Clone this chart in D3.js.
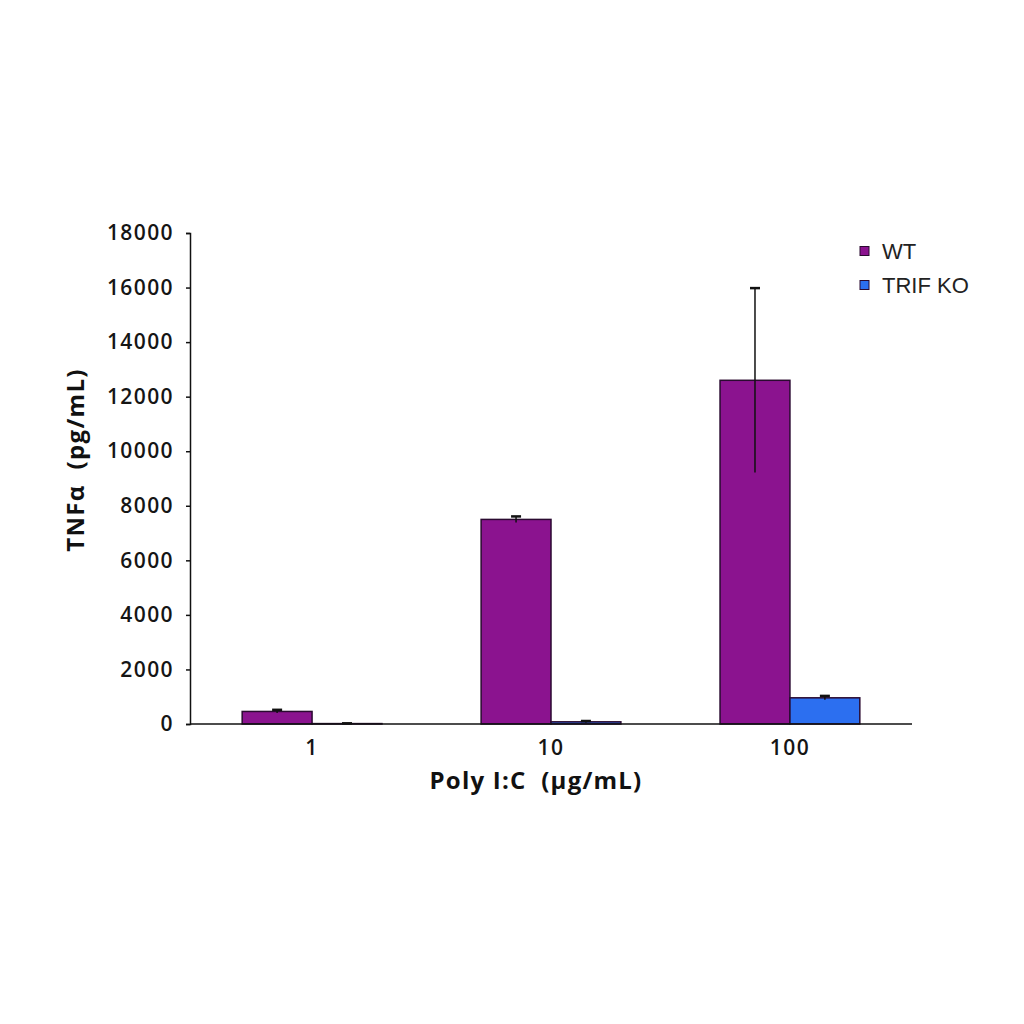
<!DOCTYPE html>
<html lang="en">
<head>
<meta charset="utf-8">
<title>TNFa Poly I:C</title>
<script src="https://cdn.jsdelivr.net/npm/d3@7"></script>
<style>
  body { margin: 0; background: #fff; }
  text { font-family: "Open Sans", "Liberation Sans", sans-serif; fill: #111; }
</style>
</head>
<body>
<script>
  // data
  var categories = ["1", "10", "100"];
  var seriesNames = ["WT", "TRIF KO"];
  var wtValues = [460, 7500, 12600];
  var wtErrors = [60, 110, 3380];
  var koValues = [15, 80, 960];
  var koErrors = [10, 30, 70];
  var yTicks = [0, 2000, 4000, 6000, 8000, 10000, 12000, 14000, 16000, 18000];
  var colors = ["#8b138f", "#2c6ff0"];

  var w = 1024, h = 1024;
  var plotLeft = 190, plotRight = 912, plotTop = 233, plotBottom = 724;

  var svg = d3.select("body").append("svg")
    .attr("width", w).attr("height", h);

  var x = d3.scaleBand().domain(categories).range([plotLeft + 2, plotRight - 2]).paddingInner(0.415).paddingOuter(0.21);
  var xs = d3.scaleBand().domain(seriesNames).range([0, x.bandwidth()]);
  var y = d3.scaleLinear().domain([0, 18000]).range([plotBottom, plotTop]);

  var rows = categories.map(function(c, i) {
    return [
      {cat: c, s: seriesNames[0], v: wtValues[i], e: wtErrors[i], col: colors[0]},
      {cat: c, s: seriesNames[1], v: koValues[i], e: koErrors[i], col: colors[1]}
    ];
  });

  var groups = svg.selectAll("g.cat").data(rows).enter().append("g")
    .attr("class", "cat")
    .attr("transform", function(d) { return "translate(" + x(d[0].cat) + ",0)"; });

  groups.selectAll("rect").data(function(d) { return d; }).enter().append("rect")
    .attr("x", function(d) { return xs(d.s); })
    .attr("width", xs.bandwidth())
    .attr("y", function(d) { return y(d.v); })
    .attr("height", function(d) { return plotBottom - y(d.v); })
    .style("fill", function(d) { return d.col; })
    .style("stroke", "#2a0a30")
    .style("stroke-width", 1.5);

  // error bars (line plus short cap)
  var err = groups.selectAll("g.err").data(function(d) { return d; }).enter().append("g")
    .attr("class", "err");
  err.append("line")
    .attr("x1", function(d) { return xs(d.s) + xs.bandwidth() / 2; })
    .attr("x2", function(d) { return xs(d.s) + xs.bandwidth() / 2; })
    .attr("y1", function(d) { return y(d.v - d.e); })
    .attr("y2", function(d) { return y(d.v + d.e); })
    .style("stroke", "#111").style("stroke-width", 1.5);
  err.append("line")
    .attr("x1", function(d) { return xs(d.s) + xs.bandwidth() / 2 - 5; })
    .attr("x2", function(d) { return xs(d.s) + xs.bandwidth() / 2 + 5; })
    .attr("y1", function(d) { return y(d.v + d.e); })
    .attr("y2", function(d) { return y(d.v + d.e); })
    .style("stroke", "#111").style("stroke-width", 2.5);

  // y axis
  var yAxis = svg.append("g")
    .attr("transform", "translate(" + plotLeft + ",0)")
    .call(d3.axisLeft(y).tickValues(yTicks).tickSize(4).tickFormat(d3.format("d")));
  yAxis.select(".domain").style("stroke", "#111").style("stroke-width", 1.5);
  yAxis.selectAll(".tick line").style("stroke", "#111").style("stroke-width", 1.5);
  yAxis.selectAll(".tick text")
    .attr("x", -16)
    .style("font-size", "21px")
    .style("font-weight", "600")
    .style("letter-spacing", "1.4px")
    .style("font-family", "'Open Sans', sans-serif")
    .style("fill", "#151515");

  // x axis
  var xAxis = svg.append("g")
    .attr("transform", "translate(0," + plotBottom + ")")
    .call(d3.axisBottom(x).tickSize(0).tickSizeOuter(0));
  xAxis.select(".domain").attr("d", "M" + plotLeft + ",0H" + plotRight).style("stroke", "#111").style("stroke-width", 1.5);
  xAxis.selectAll(".tick text")
    .attr("y", 31).attr("dy", 0)
    .style("font-size", "21px")
    .style("font-weight", "600")
    .style("letter-spacing", "1.4px")
    .style("font-family", "'Open Sans', sans-serif")
    .style("fill", "#151515");

  // axis titles
  svg.append("text")
    .attr("transform", "translate(84,460) rotate(-90)")
    .attr("text-anchor", "middle")
    .style("font-size", "24px").style("font-weight", "bold")
    .style("letter-spacing", "1.3px")
    .attr("xml:space", "preserve")
    .text("TNF\u03b1  (pg/mL)");

  svg.append("text")
    .attr("x", 536).attr("y", 789)
    .attr("text-anchor", "middle")
    .style("font-size", "24px").style("font-weight", "bold")
    .style("letter-spacing", "1.2px")
    .attr("xml:space", "preserve")
    .text("Poly I:C  (\u00b5g/mL)");

  // legend
  var legend = svg.selectAll("g.leg").data(seriesNames).enter().append("g")
    .attr("class", "leg")
    .attr("transform", function(d, i) { return "translate(860," + (251 + i * 34) + ")"; });
  legend.append("rect")
    .attr("x", 0).attr("y", -4.5).attr("width", 9).attr("height", 9)
    .style("fill", function(d, i) { return colors[i]; })
    .style("stroke", "#2a0a30").style("stroke-width", 1);
  legend.append("text")
    .attr("x", 22).attr("dy", "0.36em")
    .style("font-size", "22px")
    .style("font-family", "'Liberation Sans', Arial, sans-serif")
    .style("fill", "#222")
    .text(function(d) { return d; });
</script>
</body>
</html>
